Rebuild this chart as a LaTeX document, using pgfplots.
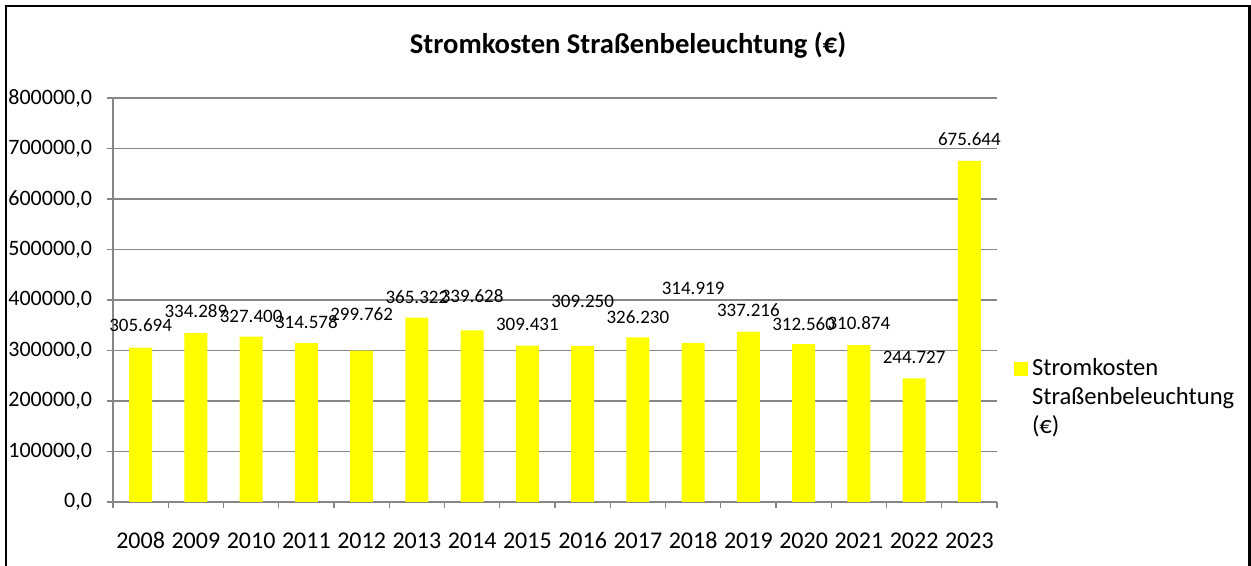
\documentclass[border=0pt]{standalone}
\usepackage{pgfplots}
\pgfplotsset{compat=1.18}
\usepackage{pgfplotstable}
\usepackage{fontspec}
\setmainfont{Carlito}
\definecolor{gridgray}{HTML}{868686}
\definecolor{barY}{RGB}{255,255,0}
\pgfplotstableread{
x y ly lab
0 305694 350500 305.694
1 334289 378200 334.289
2 327400 368300 327.400
3 314578 356400 314.578
4 299762 372300 299.762
5 365322 405900 365.322
6 339628 407900 339.628
7 309431 352500 309.431
8 309250 398000 309.250
9 326230 366300 326.230
10 314919 423800 314.919
11 337216 380200 337.216
12 312560 352500 312.560
13 310874 354500 310.874
14 244727 287100 244.727
15 675644 718800 675.644
}\datatable
\begin{document}
\begin{tikzpicture}
\useasboundingbox (-56.5pt,-32pt) rectangle (569pt,251pt);
\draw[black, line width=1.1pt] (-53.5pt,-32pt) -- (-53.5pt,248pt) -- (568.2pt,248pt) -- (568.2pt,-32pt);
\begin{axis}[
  at={(0,0)}, anchor=south west,
  scale only axis, width=442pt, height=202pt,
  xmin=-0.5, xmax=15.5, ymin=0, ymax=800000,
  xtick={0,...,15},
  xticklabels={2008,2009,2010,2011,2012,2013,2014,2015,2016,2017,2018,2019,2020,2021,2022,2023},
  major x tick style={draw=none},
  minor xtick={-0.5,0.5,...,15.5},
  minor x tick style={gridgray, line width=0.7pt},
  minor tick length=3pt,
  ytick={0,100000,...,800000},
  ymajorgrids, grid style={gridgray, line width=0.8pt},
  major y tick style={gridgray, line width=0.8pt},
  major tick length=3pt,
  tick align=outside,
  xtick pos=bottom, ytick pos=left,
  axis x line*=bottom, axis y line*=left,
  axis line style={gridgray, line width=0.8pt},
  y axis line style={-}, x axis line style={-},
  /pgf/number format/assume math mode=true,
  yticklabel={\pgfmathprintnumber[fixed, fixed zerofill, precision=1, use comma, 1000 sep={}]{\tick}},
  scaled y ticks=false,
  yticklabel style={font=\fontsize{11pt}{13pt}\selectfont, black, xshift=-4pt},
  xticklabel style={font=\fontsize{12pt}{14pt}\selectfont, black, text height=8.5pt, text depth=0pt, yshift=-8pt},
  legend style={draw=none, at={(1.012,0.375)}, anchor=north west, font=\fontsize{12.3pt}{14.5pt}\selectfont, nodes={align=left}},
  legend image code/.code={\fill[barY] (0cm,11pt) rectangle (7pt,18pt);},
  clip=false,
]
\addplot[ybar, bar width=11.5pt, fill=barY, draw=none] table[x=x, y=y] {\datatable};
\addlegendentry{Stromkosten\\Straßenbeleuchtung\\(€)}
\addplot[draw=none, mark=none, forget plot, nodes near coords, point meta=explicit symbolic,
  every node near coord/.append style={anchor=center, font=\fontsize{9.5pt}{11pt}\selectfont, black}]
  table[x=x, y=ly, meta=lab] {\datatable};
\end{axis}
\node[font=\bfseries\fontsize{14.3pt}{16pt}\selectfont] at (257.5pt,228.5pt) {Stromkosten Straßenbeleuchtung (€)};
\end{tikzpicture}
\end{document}
